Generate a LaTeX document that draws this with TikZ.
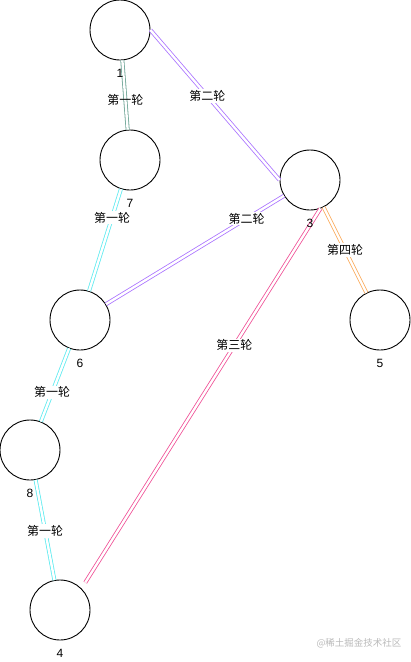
\documentclass[tikz,border=0pt]{standalone}
\usepackage{fontspec}
\setmainfont{Liberation Sans}
\newfontfamily\cjk{Noto Sans CJK SC}
\usepackage{tikz}
\definecolor{rgray}{RGB}{110,165,150}
\definecolor{rcyan}{RGB}{95,235,240}
\definecolor{rpurple}{RGB}{170,115,255}
\definecolor{rpink}{RGB}{240,80,150}
\definecolor{rorange}{RGB}{250,170,90}

\begin{document}
\begin{tikzpicture}[x=1pt,y=-1pt,
        vtx/.style={circle,draw,line width=0.9pt,minimum size=60pt,inner sep=0pt},
        lnk/.style={double=white,double distance=2.4pt,line width=0.8pt},
        lbl/.style={fill=white,inner sep=1pt,font=\cjk\fontsize{12}{12}\selectfont}]
        \useasboundingbox (0,0) rectangle (411,662);
        \foreach \n/\x/\y in {1/120/30,7/130/160,3/310/180,6/80/320,5/380/320,8/30/450,4/60/610}
            \node[vtx] (n\n) at (\x,\y) {};
        \draw[lnk,draw=rgray] (n1) -- node[lbl,fill=none,pos=0.57] (l17) {第一轮} (n7);
        \draw[lnk,draw=rpurple] (n1.east) -- node[lbl,pos=0.44] (l13) {第二轮} (n3.west);
        \draw[lnk,draw=rcyan] (n7) -- node[lbl,pos=0.28] (l76) {第一轮} (n6);
        \draw[lnk,draw=rpurple] (n6) -- node[lbl,pos=0.79] (l63) {第二轮} (n3);
        \draw[lnk,draw=rorange] (n3) -- node[lbl,pos=0.5] (l35) {第四轮} (n5);
        \draw[lnk,draw=rpink,shorten >=7pt] (n3.-70) -- node[lbl,pos=0.36] (l34) {第三轮} (n4.45);
        \draw[lnk,draw=rcyan] (n6) -- node[lbl,pos=0.6] (l68) {第一轮} (n8);
        \draw[lnk,draw=rcyan] (n8) -- node[lbl,pos=0.51] (l84) {第一轮} (n4);
        % numbers under the circles
        \foreach \n/\x/\y in {1/120/30,7/130/160,3/310/180,6/80/320,5/380/320,8/30/450,4/60/610}
            \node[font=\fontsize{12}{12}\selectfont] (t\n) at (\x,\y+43) {\n};
        \node[text=gray!55,font=\cjk\fontsize{9.5}{10}\selectfont] (wm) at (359,643) {@稀土掘金技术社区};
    \end{tikzpicture}
\end{document}
